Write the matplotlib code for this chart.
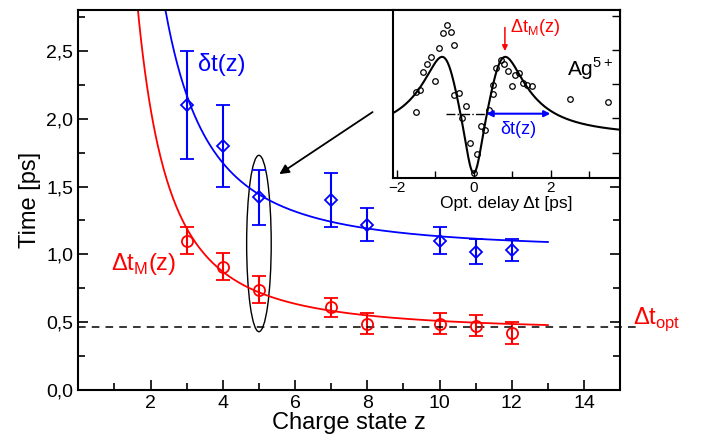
import numpy as np
import matplotlib
matplotlib.use("Agg")
import matplotlib.pyplot as plt
from matplotlib.patches import Ellipse

plt.rcParams['font.family'] = ['Liberation Sans', 'DejaVu Sans']
plt.rcParams['mathtext.fontset'] = 'custom'
plt.rcParams['mathtext.rm'] = 'Liberation Sans'

# ---- main data ----
z_blue = [3, 4, 5, 7, 8, 10, 11, 12]
dt_blue = [2.10, 1.80, 1.42, 1.40, 1.22, 1.10, 1.02, 1.03]
dt_blue_err = [0.40, 0.30, 0.20, 0.20, 0.12, 0.10, 0.09, 0.08]

z_red = [3, 4, 5, 7, 8, 10, 11, 12]
dt_red = [1.10, 0.91, 0.74, 0.61, 0.49, 0.49, 0.475, 0.42]
dt_red_err = [0.10, 0.10, 0.10, 0.07, 0.08, 0.08, 0.08, 0.08]

dt_opt = 0.467

# fit parameters  t(z) = a + b / z^n
fit_blue = (1.03, 10.3, 2.0)
fit_red = (0.432, 6.13, 1.9)

# ---- inset data ----
inset_x = [-1.49, -1.50, -1.39, -1.32, -1.21, -1.11, -1.00, -0.91, -0.80, -0.70,
           -0.60, -0.51, -0.51, -0.39, -0.30, -0.20, -0.10, 0.00, 0.09, 0.19,
           0.30, 0.40, 0.49, 0.51, 0.59, 0.70, 0.79, 0.89, 0.99, 1.08,
           1.18, 1.28, 1.39, 1.51, 2.49, 3.49]
inset_y = [2.20, 2.79, 2.85, 3.36, 3.61, 3.80, 3.11, 4.06, 4.51, 4.75,
           4.55, 4.16, 2.68, 2.74, 2.00, 2.36, 1.28, 0.40, 0.96, 1.77,
           1.67, 2.26, 2.73, 2.97, 3.47, 3.72, 3.59, 3.39, 2.95, 3.27,
           3.32, 3.03, 2.98, 2.96, 2.58, 2.49]
# inset model parameters
inset_base, inset_dip, inset_dipw, inset_amp, inset_c = 1.45, 1.05, 0.23, 7.02, 0.672

fig = plt.figure(figsize=(7.12, 4.41), dpi=100)
ax = fig.add_axes([0.110, 0.1156, 0.761, 0.8614])

zz_b = np.linspace(2.2, 13, 400)
zz_r = np.linspace(1.5, 13, 400)
ax.plot(zz_b, fit_blue[0] + fit_blue[1] / zz_b**fit_blue[2], color='blue', lw=1.3)
ax.plot(zz_r, fit_red[0] + fit_red[1] / zz_r**fit_red[2], color='red', lw=1.3)

ax.errorbar(z_blue, dt_blue, yerr=dt_blue_err, fmt='D', mfc='none', mec='blue',
            color='blue', ms=6.5, mew=1.3, capsize=5, elinewidth=1.5, capthick=1.5)
ax.errorbar(z_red, dt_red, yerr=dt_red_err, fmt='o', mfc='none', mec='red',
            color='red', ms=8, mew=1.3, capsize=5, elinewidth=1.5, capthick=1.5)

ax.plot([0, 15.5], [dt_opt, dt_opt], ls=(0, (5, 4)), color='black', lw=1.1, clip_on=False)

ax.add_patch(Ellipse((5.0, 1.08), 0.68, 1.30, fill=False, ec='black', lw=1.0))
ax.annotate('', xy=(5.50, 1.58), xytext=(8.21, 2.06),
            arrowprops=dict(arrowstyle='-|>', color='black', lw=1.3, mutation_scale=14))

ax.text(3.3, 2.40, 'δt(z)', color='blue', fontsize=17, va='center', ha='left')
ax.text(0.91, 0.93, 'Δt$_\\mathregular{M}$(z)', color='red', fontsize=17, va='center', ha='left')
ax.text(15.35, 0.49, 'Δt$_\\mathregular{opt}$', color='red', fontsize=17, va='baseline', ha='left',
        clip_on=False)

ax.set_xlim(0, 15)
ax.set_ylim(0, 2.8)
ax.set_xticks([2, 4, 6, 8, 10, 12, 14])
ax.set_xticks([1, 3, 5, 7, 9, 11, 13], minor=True)
ax.set_yticks([0, 0.5, 1.0, 1.5, 2.0, 2.5])
ax.set_yticks([0.25, 0.75, 1.25, 1.75, 2.25, 2.75], minor=True)
ax.set_yticklabels(['0,0', '0,5', '1,0', '1,5', '2,0', '2,5'])
ax.tick_params(which='both', direction='in', top=False, right=True, labelsize=14, width=1.2)
ax.tick_params(which='major', length=7)
ax.tick_params(which='minor', length=5)
for s in ax.spines.values():
    s.set_linewidth(1.5)
ax.set_xlabel('Charge state z', fontsize=17, labelpad=0)
ax.set_ylabel('Time [ps]', fontsize=17)

# ---- inset ----
ia = fig.add_axes([0.5516, 0.597, 0.3194, 0.380])
xx = np.linspace(-2.1, 3.8, 500)
u = xx**2
yy = inset_base - inset_dip * np.exp(-(xx / inset_dipw)**2) + inset_amp * u / (1 + (u / inset_c)**2)
ia.plot(xx, yy, color='black', lw=1.5)
ia.plot(inset_x, inset_y, 'o', mfc='none', mec='black', ms=4, mew=0.9)
ia.plot([-0.72, 0.33], [2.14, 2.14], color='black', lw=1.0, ls='-.')
ia.annotate('', xy=(1.99, 2.14), xytext=(0.33, 2.14),
            arrowprops=dict(arrowstyle='<|-|>', color='blue', lw=1.5, mutation_scale=9,
                            shrinkA=0, shrinkB=0))
ia.annotate('', xy=(0.81, 3.98), xytext=(0.81, 4.67),
            arrowprops=dict(arrowstyle='-|>', color='red', lw=1.1, mutation_scale=8,
                            shrinkA=0, shrinkB=0))
ia.text(0.94, 4.55, 'Δt$_\\mathregular{M}$(z)', color='red', fontsize=13, va='baseline', ha='left')
ia.text(1.17, 1.67, 'δt(z)', color='blue', fontsize=13, va='center', ha='center')
ia.text(2.42, 3.45, 'Ag$^\\mathregular{5+}$', color='black', fontsize=15, va='center', ha='left')
ia.set_xlim(-2.1, 3.8)
ia.set_ylim(0.26, 5.18)
ia.set_xticks([-2, 0, 2])
ia.set_xticks([-1, 1, 3], minor=True)
ia.set_yticks([1, 2, 3, 4, 5])
ia.set_yticklabels([])
ia.tick_params(which='both', direction='in', left=False, right=True, labelleft=False,
               labelsize=11, width=1.0, pad=2)
ia.tick_params(which='major', length=6)
ia.tick_params(which='minor', length=5)
for s in ia.spines.values():
    s.set_linewidth(1.5)
ia.set_xlabel('Opt. delay Δt [ps]', fontsize=12.5, labelpad=1)

fig.savefig('out.png', dpi=100)
